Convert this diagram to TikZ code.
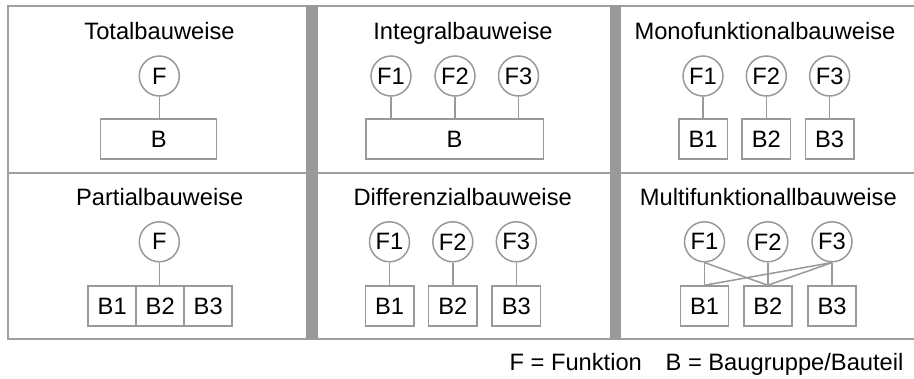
\documentclass[tikz,border=0pt]{standalone}
\usepackage{fontspec}
\setmainfont{Liberation Sans}
\definecolor{lg}{RGB}{153,153,153}
\definecolor{fg}{RGB}{160,160,160}
\begin{document}
\begin{tikzpicture}[x=1pt,y=-1pt,
  every node/.style={font=\fontsize{23.7}{28}\selectfont, text=black},
  fn/.style={circle, draw=lg, line width=1.5pt, minimum size=40pt, inner sep=0pt},
  bx/.style={rectangle, draw=lg, line width=1.5pt, minimum height=40pt, inner sep=0pt},
  con/.style={draw=lg, line width=1.5pt},
  ttl/.style={anchor=base}]
\useasboundingbox (0,0) rectangle (914,378);
\fill[white] (0,0) rectangle (914,378);
% frame
\draw[fg, line width=2pt] (930,6) -- (8,6) -- (8,339) -- (930,339);
\draw[fg, line width=2pt] (8,172.5) -- (930,172.5);
\fill[lg] (306,5) rectangle (318,340);
\fill[lg] (609.5,5) rectangle (620.5,340);
% Panel 1: Totalbauweise
\node[ttl] (t1) at (159.5,39.5) {Totalbauweise};
\node[fn] (p1f) at (159.3,76) {F};
\node[bx, minimum width=116pt] (p1b) at (158.7,139) {B};
\draw[con] (p1f.south) -- (p1f.south |- p1b.north);
% Panel 2: Integralbauweise
\node[ttl] (t2) at (463,39.5) {Integralbauweise};
\node[fn] (p2f1) at (391,76) {F1};
\node[fn] (p2f2) at (455,76) {F2};
\node[fn] (p2f3) at (518.5,76) {F3};
\node[bx, minimum width=177.5pt] (p2b) at (454.5,139) {B};
\draw[con] (p2f1.south) -- (p2f1.south |- p2b.north);
\draw[con] (p2f2.south) -- (p2f2.south |- p2b.north);
\draw[con] (p2f3.south) -- (p2f3.south |- p2b.north);
% Panel 3: Monofunktionalbauweise
\node[ttl] (t3) at (765,39.5) {Monofunktionalbauweise};
\node[fn] (p3f1) at (703,76) {F1};
\node[fn] (p3f2) at (766.3,76) {F2};
\node[fn] (p3f3) at (829.6,76) {F3};
\node[bx, minimum width=48.5pt] (p3b1) at (703,139) {B1};
\node[bx, minimum width=48.5pt] (p3b2) at (766.3,139) {B2};
\node[bx, minimum width=48.5pt] (p3b3) at (829.6,139) {B3};
\draw[con] (p3f1.south) -- (p3b1.north);
\draw[con] (p3f2.south) -- (p3b2.north);
\draw[con] (p3f3.south) -- (p3b3.north);
% Panel 4: Partialbauweise
\node[ttl] (t4) at (159.7,205.5) {Partialbauweise};
\node[fn] (p4f) at (159.3,241.8) {F};
\node[bx, minimum width=48pt] (p4b1) at (112.2,306) {B1};
\node[bx, minimum width=48pt] (p4b2) at (160.2,306) {B2};
\node[bx, minimum width=48pt] (p4b3) at (208.2,306) {B3};
\draw[con] (p4f.south) -- (p4f.south |- p4b2.north);
% Panel 5: Differenzialbauweise
\node[ttl] (t5) at (462.7,205.5) {Differenzialbauweise};
\node[fn] (p5f1) at (389.5,241.8) {F1};
\node[fn] (p5f2) at (452.8,241.8) {F2};
\node[fn] (p5f3) at (516.3,241.8) {F3};
\node[bx, minimum width=48.5pt] (p5b1) at (389.5,306) {B1};
\node[bx, minimum width=48.5pt] (p5b2) at (452.8,306) {B2};
\node[bx, minimum width=48.5pt] (p5b3) at (516.3,306) {B3};
\draw[con] (p5f1.south) -- (p5b1.north);
\draw[con] (p5f2.south) -- (p5b2.north);
\draw[con] (p5f3.south) -- (p5b3.north);
% Panel 6: Multifunktionallbauweise
\node[ttl] (t6) at (768.3,205.5) {Multifunktionallbauweise};
\node[fn] (p6f1) at (704.5,241.8) {F1};
\node[fn] (p6f2) at (767.8,241.8) {F2};
\node[fn] (p6f3) at (832,241.8) {F3};
\node[bx, minimum width=48pt] (p6b1) at (704.5,306) {B1};
\node[bx, minimum width=48pt] (p6b2) at (767.8,306) {B2};
\node[bx, minimum width=48pt] (p6b3) at (832,306) {B3};
\draw[con] (p6f1.south) -- (p6b1.north);
\draw[con] (p6f1.south) -- (p6b2.north);
\draw[con] (p6f2.south) -- (p6b2.north);
\draw[con] (p6f3.south) -- (p6b1.north);
\draw[con] (p6f3.south) -- (p6b2.north);
\draw[con] (p6f3.south) -- (p6b3.north);
% legend
\node[anchor=base east] (leg) at (907,370) {F = Funktion\quad B = Baugruppe/Bauteil};
\end{tikzpicture}
\end{document}
